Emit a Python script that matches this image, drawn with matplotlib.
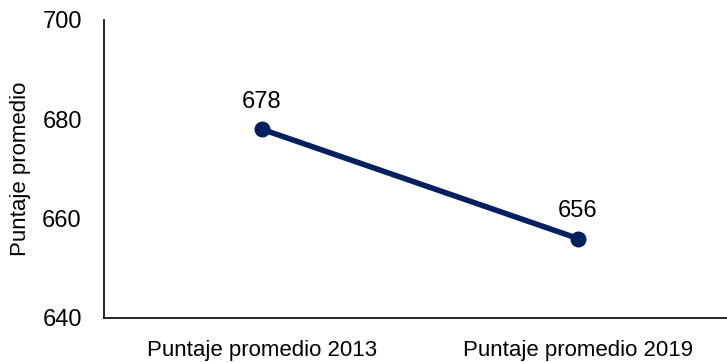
import matplotlib
matplotlib.use("Agg")
import matplotlib.pyplot as plt

categories = ["Puntaje promedio 2013", "Puntaje promedio 2019"]
values = [678, 656]
yticks = [640, 660, 680, 700]

plt.rcParams['font.family'] = ['Liberation Sans', 'DejaVu Sans']

fig = plt.figure(figsize=(7.27, 3.62), dpi=100)
ax = fig.add_axes([104/727, 1 - 318/362, (736-104)/727, (318-20)/362])
x = list(range(len(categories)))
ax.plot(x, values, color='#002060', lw=4, marker='o', ms=10.5, clip_on=False, zorder=3)
for xi, v in zip(x, values):
    ax.annotate(str(v), (xi, v), xytext=(0, 12), textcoords='offset points',
                ha='center', va='bottom', fontsize=17)
ax.set_xlim(-0.5, 1.5)
ax.set_ylim(640, 700)
ax.set_yticks(yticks)
ax.set_xticks(x)
ax.set_xticklabels(categories, fontsize=16)
ax.tick_params(axis='both', length=0)
ax.tick_params(axis='y', pad=16, labelsize=17)
ax.tick_params(axis='x', pad=16)
for s in ['top', 'right']:
    ax.spines[s].set_visible(False)
for s in ['left', 'bottom']:
    ax.spines[s].set_linewidth(1.2)
    ax.spines[s].set_color('black')
ax.set_ylabel("Puntaje promedio", fontsize=16, labelpad=8)
fig.savefig("out.png", dpi=100)
